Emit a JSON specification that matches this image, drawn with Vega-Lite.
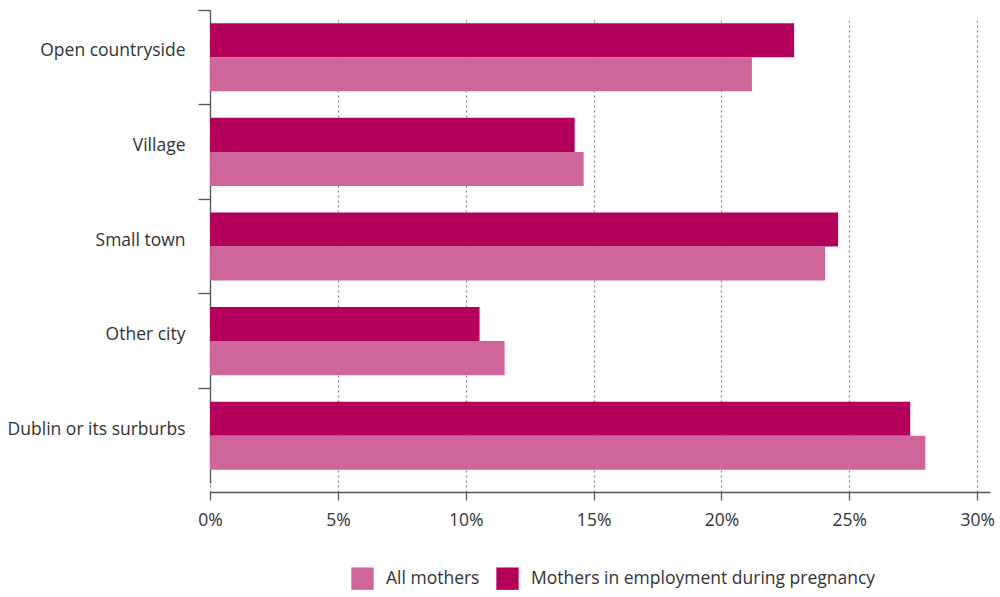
{
  "$schema": "https://vega.github.io/schema/vega-lite/v6.json",
  "width": 780,
  "height": 482,
  "autosize": {"type": "none"},
  "padding": {"left": 210, "top": 10, "right": 10, "bottom": 105},
  "background": "white",
  "config": {
    "view": {"stroke": null},
    "font": "Open Sans"
  },
  "data": {
    "values": [
      {"area": "Open countryside", "group": "Mothers in employment during pregnancy", "value": 22.84},
      {"area": "Open countryside", "group": "All mothers", "value": 21.19},
      {"area": "Village", "group": "Mothers in employment during pregnancy", "value": 14.26},
      {"area": "Village", "group": "All mothers", "value": 14.61},
      {"area": "Small town", "group": "Mothers in employment during pregnancy", "value": 24.56},
      {"area": "Small town", "group": "All mothers", "value": 24.05},
      {"area": "Other city", "group": "Mothers in employment during pregnancy", "value": 10.54},
      {"area": "Other city", "group": "All mothers", "value": 11.52},
      {"area": "Dublin or its surburbs", "group": "Mothers in employment during pregnancy", "value": 27.38},
      {"area": "Dublin or its surburbs", "group": "All mothers", "value": 27.97}
    ]
  },
  "mark": {"type": "bar"},
  "encoding": {
    "y": {
      "field": "area",
      "type": "nominal",
      "sort": ["Open countryside", "Village", "Small town", "Other city", "Dublin or its surburbs"],
      "scale": {"paddingInner": 0, "paddingOuter": 0, "range": [0, 473]},
      "axis": {
        "title": null,
        "bandPosition": 0,
        "labelOffset": -6,
        "tickSize": 12,
        "tickColor": "#555555",
        "tickWidth": 1.3,
        "domainColor": "#555555",
        "domainWidth": 1.3,
        "labelPadding": 13,
        "labelFontSize": 17.5,
        "labelColor": "#333333",
        "labelLimit": 300,
        "grid": false
      }
    },
    "yOffset": {
      "field": "group",
      "type": "nominal",
      "sort": ["Mothers in employment during pregnancy", "All mothers"],
      "scale": {"paddingInner": 0, "paddingOuter": 0.39}
    },
    "x": {
      "field": "value",
      "type": "quantitative",
      "scale": {"domain": [0, 30.5], "nice": false},
      "axis": {
        "title": null,
        "values": [0, 5, 10, 15, 20, 25, 30],
        "labelExpr": "datum.value + '%'",
        "labelFlush": false,
        "tickSize": 8,
        "tickColor": "#555555",
        "tickWidth": 1.3,
        "domainColor": "#555555",
        "domainWidth": 1.3,
        "labelPadding": 11,
        "labelFontSize": 17.5,
        "labelColor": "#333333",
        "grid": true,
        "gridColor": "#888888",
        "gridDash": [2, 3],
        "gridWidth": 1.2
      }
    },
    "color": {
      "field": "group",
      "type": "nominal",
      "scale": {
        "domain": ["All mothers", "Mothers in employment during pregnancy"],
        "range": ["#cf6699", "#b3005b"]
      },
      "legend": {
        "title": null,
        "orient": "none",
        "direction": "horizontal",
        "legendX": 141,
        "legendY": 557,
        "symbolType": "square",
        "symbolSize": 500,
        "symbolStrokeWidth": 0,
        "labelFontSize": 17.5,
        "labelColor": "#333333",
        "labelLimit": 500,
        "labelOffset": 12,
        "columnPadding": 16
      }
    }
  }
}
